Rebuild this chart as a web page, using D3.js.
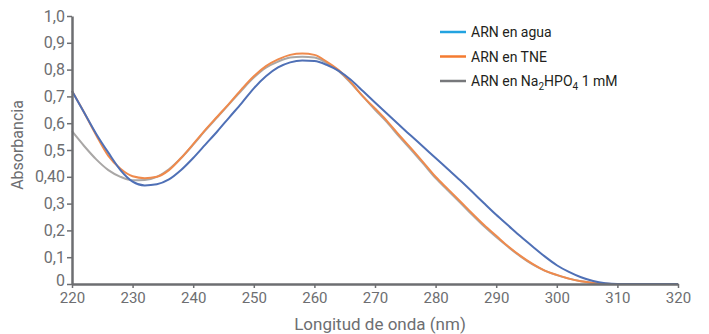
<!DOCTYPE html>
<html>
<head>
<meta charset="utf-8">
<script src="https://cdn.jsdelivr.net/npm/d3@7"></script>
<style>
  body { margin: 0; background: #fff; }
  svg text { font-family: Roboto, "Noto Sans", sans-serif; }
</style>
</head>
<body>
<div id="chart"></div>
<script>
// wavelengths in nm (2 nm steps)
const wavelengths = d3.range(220, 322, 2);

// absorbance
const agua = [0.72, 0.64, 0.56, 0.49, 0.425, 0.382, 0.368, 0.372, 0.39, 0.425,
  0.47, 0.52, 0.57, 0.623, 0.675, 0.73, 0.775, 0.808, 0.827, 0.834,
  0.832, 0.818, 0.795, 0.762, 0.72, 0.677, 0.635, 0.593, 0.552, 0.511,
  0.47, 0.429, 0.388, 0.345, 0.301, 0.258, 0.218, 0.178, 0.14, 0.103,
  0.07, 0.045, 0.025, 0.011, 0.003, 0, 0, 0, 0, 0, 0];
const tne = [0.72, 0.64, 0.555, 0.478, 0.43, 0.402, 0.395, 0.40, 0.425, 0.47,
  0.522, 0.575, 0.625, 0.675, 0.727, 0.775, 0.813, 0.838, 0.855, 0.86,
  0.855, 0.83, 0.798, 0.753, 0.70, 0.655, 0.608, 0.555, 0.505, 0.453,
  0.40, 0.355, 0.31, 0.264, 0.22, 0.18, 0.14, 0.105, 0.075, 0.05,
  0.034, 0.02, 0.01, 0.004, 0.001, 0, 0, 0, 0, 0, 0];
const fosfato = [0.57, 0.515, 0.465, 0.425, 0.40, 0.387, 0.388, 0.40, 0.428, 0.47,
  0.52, 0.573, 0.623, 0.673, 0.723, 0.77, 0.807, 0.83, 0.845, 0.848,
  0.845, 0.825, 0.795, 0.75, 0.70, 0.65, 0.603, 0.55, 0.50, 0.448,
  0.395, 0.35, 0.305, 0.259, 0.215, 0.175, 0.138, 0.103, 0.073, 0.05,
  0.033, 0.02, 0.01, 0.004, 0.001, 0, 0, 0, 0, 0, 0];

const xTicks = [220, 230, 240, 250, 260, 270, 280, 290, 300, 310, 320];
const yTicks = [0, 0.1, 0.2, 0.3, 0.4, 0.5, 0.6, 0.7, 0.8, 0.9, 1.0];
const yTickLabels = ["0", "0,1", "0,2", "0,3", "0,40", "0,5", "0,6", "0,7", "0,8", "0,9", "1,0"];

const series = [
  {name: "fosfato", values: fosfato, line: "#a9a7a6", key: "#77787b"},
  {name: "tne", values: tne, line: "#ef8a4c", key: "#f47b30"},
  {name: "agua", values: agua, line: "#4f70b6", key: "#22a3e0"}
];

const width = 709, height = 334;
const margin = {top: 16, right: 31, bottom: 50, left: 72};

const svg = d3.select("#chart").append("svg")
  .attr("width", width)
  .attr("height", height);

const x = d3.scaleLinear().domain([220, 320]).range([margin.left, width - margin.right]);
const y = d3.scaleLinear().domain([0, 1]).range([height - margin.bottom, margin.top]);

const axisColor = "#6d6e71";

// curves
const line = d3.line()
  .x((d, i) => x(wavelengths[i]))
  .y(d => y(d))
  .curve(d3.curveMonotoneX);

svg.append("g").selectAll("path")
  .data(series)
  .join("path")
  .attr("fill", "none")
  .attr("stroke", d => d.line)
  .attr("stroke-width", 2)
  .attr("stroke-linejoin", "round")
  .attr("d", d => line(d.values));

// x axis
const gx = svg.append("g")
  .attr("transform", `translate(0, ${y(0)})`)
  .call(d3.axisBottom(x).tickValues(xTicks).tickSize(4).tickSizeOuter(0).tickPadding(4));
gx.select(".domain").attr("stroke", axisColor).attr("stroke-width", 2.5);
gx.selectAll(".tick line").attr("stroke", axisColor).attr("stroke-width", 1.5);
gx.selectAll(".tick text").attr("fill", axisColor).style("font-size", "15px");

// y axis
const gy = svg.append("g")
  .attr("transform", `translate(${x(220)}, 0)`)
  .call(d3.axisLeft(y).tickValues(yTicks).tickFormat((d, i) => yTickLabels[i])
    .tickSize(5).tickSizeOuter(0).tickPadding(2));
gy.select(".domain").attr("stroke", axisColor).attr("stroke-width", 2.5);
gy.selectAll(".tick line").attr("stroke", axisColor).attr("stroke-width", 1.5);
gy.selectAll(".tick text").attr("fill", axisColor).style("font-size", "16px");
gy.selectAll(".tick").filter(d => d === 0).select("text").attr("dy", "0.07em");

// axis titles
svg.append("text")
  .attr("x", 380)
  .attr("y", 330)
  .attr("text-anchor", "middle")
  .attr("fill", axisColor)
  .style("font-size", "17px")
  .text("Longitud de onda (nm)");

svg.append("text")
  .attr("transform", `translate(23, 145) rotate(-90)`)
  .attr("text-anchor", "middle")
  .attr("fill", axisColor)
  .style("font-size", "16px")
  .text("Absorbancia");

// legend
const legend = svg.append("g").attr("transform", "translate(440, 32)");
const legendItems = legend.selectAll("g")
  .data(series.slice().reverse())
  .join("g")
  .attr("transform", (d, i) => `translate(0, ${i * 24.5})`);

legendItems.append("line")
  .attr("x1", 0).attr("x2", 26)
  .attr("y1", 0).attr("y2", 0)
  .attr("stroke", d => d.key)
  .attr("stroke-width", 2.5);

const labels = legendItems.append("text")
  .attr("x", 31)
  .attr("y", 5)
  .attr("fill", "#231f20")
  .style("font-size", "14px");

labels.filter(d => d.name === "agua").text("ARN en agua");
labels.filter(d => d.name === "tne").text("ARN en TNE");
labels.filter(d => d.name === "fosfato").each(function() {
  const t = d3.select(this);
  t.append("tspan").text("ARN en Na");
  t.append("tspan").attr("dy", 4).style("font-size", "10px").text("2");
  t.append("tspan").attr("dy", -4).text("HPO");
  t.append("tspan").attr("dy", 4).style("font-size", "10px").text("4");
  t.append("tspan").attr("dy", -4).text(" 1 mM");
});
</script>
</body>
</html>
